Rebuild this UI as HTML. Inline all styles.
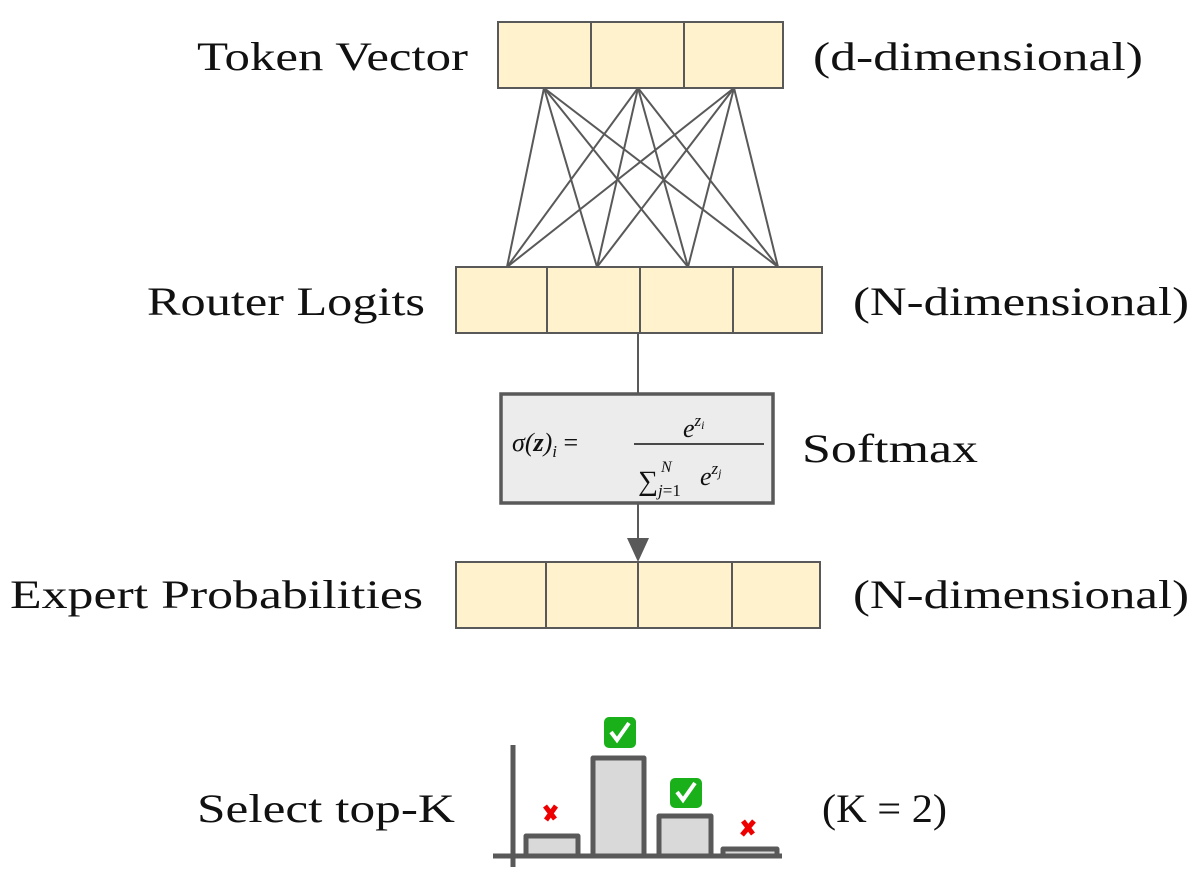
<!DOCTYPE html>
<html><head><meta charset="utf-8"><style>html,body{margin:0;padding:0;background:#fff}svg{display:block}</style></head><body>
<svg width="1202" height="888" viewBox="0 0 1202 888" xmlns="http://www.w3.org/2000/svg" font-family="Liberation Serif, serif">
<g stroke="#595959" stroke-width="2">
<line x1="544" y1="88" x2="507" y2="267"/><line x1="544" y1="88" x2="597" y2="267"/><line x1="544" y1="88" x2="688" y2="267"/><line x1="544" y1="88" x2="778" y2="267"/>
<line x1="638" y1="88" x2="507" y2="267"/><line x1="638" y1="88" x2="597" y2="267"/><line x1="638" y1="88" x2="688" y2="267"/><line x1="638" y1="88" x2="778" y2="267"/>
<line x1="734" y1="88" x2="507" y2="267"/><line x1="734" y1="88" x2="597" y2="267"/><line x1="734" y1="88" x2="688" y2="267"/><line x1="734" y1="88" x2="778" y2="267"/>
<line x1="638" y1="333" x2="638" y2="393"/>
<line x1="638" y1="503" x2="638" y2="546"/>
</g>
<polygon points="627,538 649,538 638,562" fill="#595959"/>
<g fill="#fff2cc" stroke="#595959" stroke-width="2">
<rect x="498" y="22" width="93" height="66"/><rect x="591" y="22" width="93" height="66"/><rect x="684" y="22" width="99" height="66"/>
<rect x="456" y="267" width="91" height="66"/><rect x="547" y="267" width="93" height="66"/><rect x="640" y="267" width="93" height="66"/><rect x="733" y="267" width="89" height="66"/>
<rect x="456" y="562" width="90" height="66"/><rect x="546" y="562" width="92" height="66"/><rect x="638" y="562" width="94" height="66"/><rect x="732" y="562" width="88" height="66"/>
</g>
<rect x="501" y="394" width="272" height="109" fill="#ececec" stroke="#595959" stroke-width="3.5"/>
<g font-style="italic" fill="#111" font-size="26">
<text x="512" y="451">σ(<tspan font-weight="bold">z</tspan>)<tspan font-size="17" dy="6" font-style="italic">i</tspan><tspan dy="-6" font-style="normal"> = </tspan></text>
<text x="683" y="437">e<tspan font-size="17" dy="-11">z</tspan><tspan font-size="12" dy="3">i</tspan></text>
<text x="638" y="490" font-style="normal" font-size="28">∑</text>
<text x="661" y="472" font-size="16">N</text>
<text x="658" y="496" font-size="17">j<tspan font-style="normal">=1</tspan></text>
<text x="700" y="485">e<tspan font-size="17" dy="-11">z</tspan><tspan font-size="12" dy="3">j</tspan></text>
</g>
<line x1="634" y1="444" x2="764" y2="444" stroke="#111" stroke-width="1.5"/>
<g font-size="40" fill="#111">
<text x="197" y="70" textLength="271" lengthAdjust="spacingAndGlyphs">Token Vector</text>
<text x="813" y="70" textLength="330" lengthAdjust="spacingAndGlyphs">(d-dimensional)</text>
<text x="147" y="315" textLength="278" lengthAdjust="spacingAndGlyphs">Router Logits</text>
<text x="853" y="315" textLength="336" lengthAdjust="spacingAndGlyphs">(N-dimensional)</text>
<text x="802" y="462" textLength="176" lengthAdjust="spacingAndGlyphs">Softmax</text>
<text x="10" y="608" textLength="413" lengthAdjust="spacingAndGlyphs">Expert Probabilities</text>
<text x="853" y="608" textLength="336" lengthAdjust="spacingAndGlyphs">(N-dimensional)</text>
<text x="197" y="822" textLength="258" lengthAdjust="spacingAndGlyphs">Select top-K</text>
<text x="822" y="822" textLength="125" lengthAdjust="spacingAndGlyphs">(K = 2)</text>
</g>
<g stroke="#595959" stroke-width="5" fill="#d9d9d9" stroke-linejoin="round">
<line x1="513" y1="745" x2="513" y2="867"/>
<line x1="493" y1="856" x2="782" y2="856"/>
<rect x="526" y="836" width="52" height="20"/>
<rect x="593" y="758" width="51" height="98"/>
<rect x="659" y="816" width="52" height="40"/>
<rect x="723" y="849" width="54" height="7"/>
</g>
<g>
<rect x="604" y="717" width="32" height="31" rx="5" fill="#19b019"/>
<path d="M611 732 l6 8 l12 -17" stroke="#fff" stroke-width="4" fill="none"/>
<rect x="670" y="778" width="32" height="30" rx="5" fill="#19b019"/>
<path d="M677 792 l6 8 l12 -17" stroke="#fff" stroke-width="4" fill="none"/>
<path d="M546 820 l10 -14 M545 806 l10 13" stroke="#e00" stroke-width="5" fill="none"/>
<path d="M742 835 l12 -14 M743 821 l10 13" stroke="#e00" stroke-width="5" fill="none"/>
</g>
</svg>
</body></html>
